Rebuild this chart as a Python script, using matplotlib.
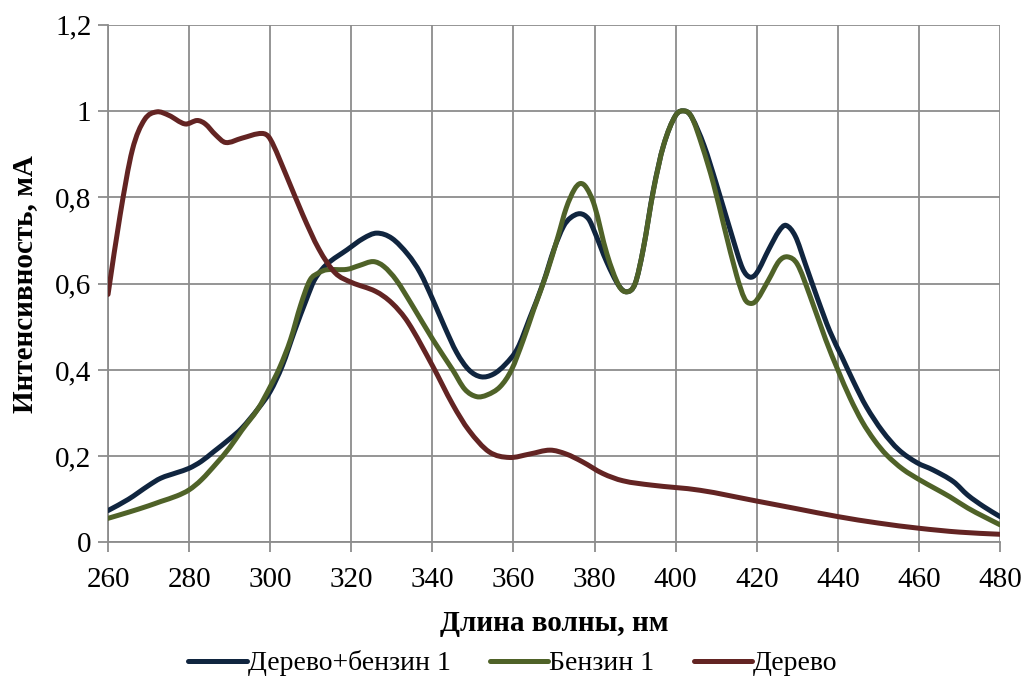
import matplotlib
matplotlib.use("Agg")
import numpy as np
import matplotlib.pyplot as plt
from matplotlib.path import Path
from matplotlib.patches import PathPatch
from matplotlib.lines import Line2D
from matplotlib.ticker import FuncFormatter, MultipleLocator

plt.rcParams['font.family'] = ['Liberation Serif', 'DejaVu Serif']

# Wavelength (nm) and intensity (mA) for each sample
wl_mix = [260, 265, 270, 273, 277, 280, 283, 286, 290, 293, 297, 300, 303, 306,
          309, 311, 314, 318.9, 323, 326.3, 330, 334, 337, 340, 343, 346, 349,
          352, 355, 358, 361, 364, 367.3, 370, 372.3, 374, 376.4, 378.5, 380,
          383, 386, 388, 390, 392, 394.5, 397, 400, 402.3, 404, 407, 410, 414.2,
          416.5, 418.3, 420, 423, 425.5, 427.2, 429.5, 432, 435, 438, 441, 444, 447,
          451, 455, 459.5, 463.5, 468.5, 472, 476, 480]
int_mix = [0.074, 0.10, 0.132, 0.149, 0.162, 0.172, 0.188, 0.21, 0.24, 0.265, 0.31,
           0.35, 0.41, 0.49, 0.565, 0.61, 0.645, 0.678, 0.705, 0.717, 0.705, 0.667,
           0.625, 0.565, 0.50, 0.44, 0.40, 0.384, 0.39, 0.413, 0.45, 0.52, 0.601,
           0.68, 0.732, 0.752, 0.762, 0.75, 0.72, 0.65, 0.595, 0.581, 0.60, 0.68,
           0.817, 0.92, 0.99, 1.0, 0.985, 0.92, 0.832, 0.701, 0.635, 0.615, 0.625,
           0.68, 0.722, 0.735, 0.71, 0.645, 0.565, 0.49, 0.43, 0.37, 0.315, 0.258,
           0.215, 0.185, 0.168, 0.141, 0.11, 0.083, 0.06]

wl_fuel = [260, 265, 270, 273, 277, 280, 283, 286.8, 290, 293, 297, 300, 302.4, 305,
           307.5, 309.8, 312, 313.9, 318.9, 322, 325.4, 328, 331.1, 335, 340.2, 345,
           348, 350.9, 353.5, 356.7, 359.5, 362.4, 365, 368.2, 371, 373, 375,
           376.5, 378, 380, 383, 386, 388, 390, 392, 394.5, 397, 400, 402.3, 404,
           406.5, 409.3, 412, 415, 417, 418.5, 420, 423, 425.5, 427.6, 430, 433, 437,
           440, 443, 446, 449, 452, 456, 460.2, 464, 467.6, 472, 476, 480]
int_fuel = [0.056, 0.07, 0.085, 0.095, 0.108, 0.122, 0.145, 0.184, 0.22, 0.26, 0.31,
            0.361, 0.407, 0.47, 0.55, 0.608, 0.625, 0.632, 0.633, 0.642, 0.651, 0.64,
            0.608, 0.55, 0.469, 0.40, 0.355, 0.338, 0.342, 0.361, 0.40, 0.469, 0.54,
            0.624, 0.71, 0.775, 0.818, 0.832, 0.822, 0.78, 0.67, 0.595, 0.581, 0.60,
            0.68, 0.815, 0.92, 0.99, 1.0, 0.985, 0.92, 0.832, 0.73, 0.62, 0.565,
            0.554, 0.562, 0.61, 0.652, 0.662, 0.645, 0.575, 0.47, 0.40, 0.335, 0.28,
            0.237, 0.203, 0.17, 0.145, 0.125, 0.106, 0.08, 0.06, 0.041]

wl_wood = [260, 263, 266, 269, 272, 275, 279, 282, 284, 286.5, 289, 293, 298, 300,
           304, 308, 312, 316, 320, 326, 330, 334, 340, 345, 349, 354, 359, 364, 369,
           373, 377, 382, 387, 394, 406, 420, 430, 440, 450, 460, 470, 480]
int_wood = [0.575, 0.76, 0.91, 0.98, 0.998, 0.99, 0.97, 0.978, 0.97, 0.945, 0.927,
            0.937, 0.948, 0.935, 0.85, 0.76, 0.68, 0.625, 0.603, 0.582, 0.555, 0.51,
            0.41, 0.32, 0.26, 0.21, 0.197, 0.205, 0.214, 0.205, 0.187, 0.16, 0.143,
            0.133, 0.121, 0.096, 0.078, 0.060, 0.045, 0.033, 0.024, 0.019]

labels = ["Дерево+бензин 1", "Бензин 1", "Дерево"]
colors = ["#10253F", "#4F6228", "#632423"]
x_ticks = list(range(260, 481, 20))


def smooth_path(xs, ys):
    """Smoothed line: cubic Bezier segments with Hermite slopes through each point."""
    x = np.asarray(xs, float)
    y = np.asarray(ys, float)
    n = len(x)
    m = np.empty(n)
    m[1:-1] = (y[2:] - y[:-2]) / (x[2:] - x[:-2])
    m[0] = (y[1] - y[0]) / (x[1] - x[0])
    m[-1] = (y[-1] - y[-2]) / (x[-1] - x[-2])
    verts = [(x[0], y[0])]
    codes = [Path.MOVETO]
    for i in range(n - 1):
        h = x[i + 1] - x[i]
        verts += [(x[i] + h / 3, y[i] + m[i] * h / 3),
                  (x[i + 1] - h / 3, y[i + 1] - m[i + 1] * h / 3),
                  (x[i + 1], y[i + 1])]
        codes += [Path.CURVE4] * 3
    return Path(verts, codes)


fig = plt.figure(figsize=(10.26, 6.81), dpi=100)
ax = fig.add_axes([0.1053, 0.2034, 0.8694, 0.7603])

series = [(wl_mix, int_mix), (wl_fuel, int_fuel), (wl_wood, int_wood)]
for (xs, ys), c in zip(series, colors):
    ax.add_patch(PathPatch(smooth_path(xs, ys), facecolor='none', edgecolor=c,
                           lw=3.6, capstyle='round', joinstyle='round', zorder=3))

ax.set_xlim(260, 480)
ax.set_ylim(0, 1.2)
ax.set_xticks(x_ticks)
ax.yaxis.set_major_locator(MultipleLocator(0.2))
ax.yaxis.set_major_formatter(FuncFormatter(
    lambda v, _: ('%g' % round(v, 1)).replace('.', ',')))

grid_c = '#8C8C8C'
ax.grid(True, color=grid_c, lw=1.3, zorder=0)
ax.set_axisbelow(True)
for s in ['top', 'right']:
    ax.spines[s].set_visible(False)
for s in ['left', 'bottom']:
    ax.spines[s].set_color(grid_c)
    ax.spines[s].set_linewidth(1.3)
ax.tick_params(axis='both', which='major', direction='out', length=7, width=1.3,
               color=grid_c, labelsize=21, pad=5)
ax.tick_params(axis='x', pad=11)

ax.set_xlabel("Длина волны, нм", fontsize=21, fontweight='bold', labelpad=12)
ax.set_ylabel("Интенсивность, мА", fontsize=21, fontweight='bold', labelpad=12)

handles = [Line2D([], [], color=c, lw=3.6, solid_capstyle='round') for c in colors]
fig.legend(handles, labels, loc='lower center', bbox_to_anchor=(0.5, -0.03),
           ncol=3, frameon=False, fontsize=20, handlelength=2.1,
           handletextpad=0.05, columnspacing=1.4)

fig.savefig("out.png", dpi=100)
